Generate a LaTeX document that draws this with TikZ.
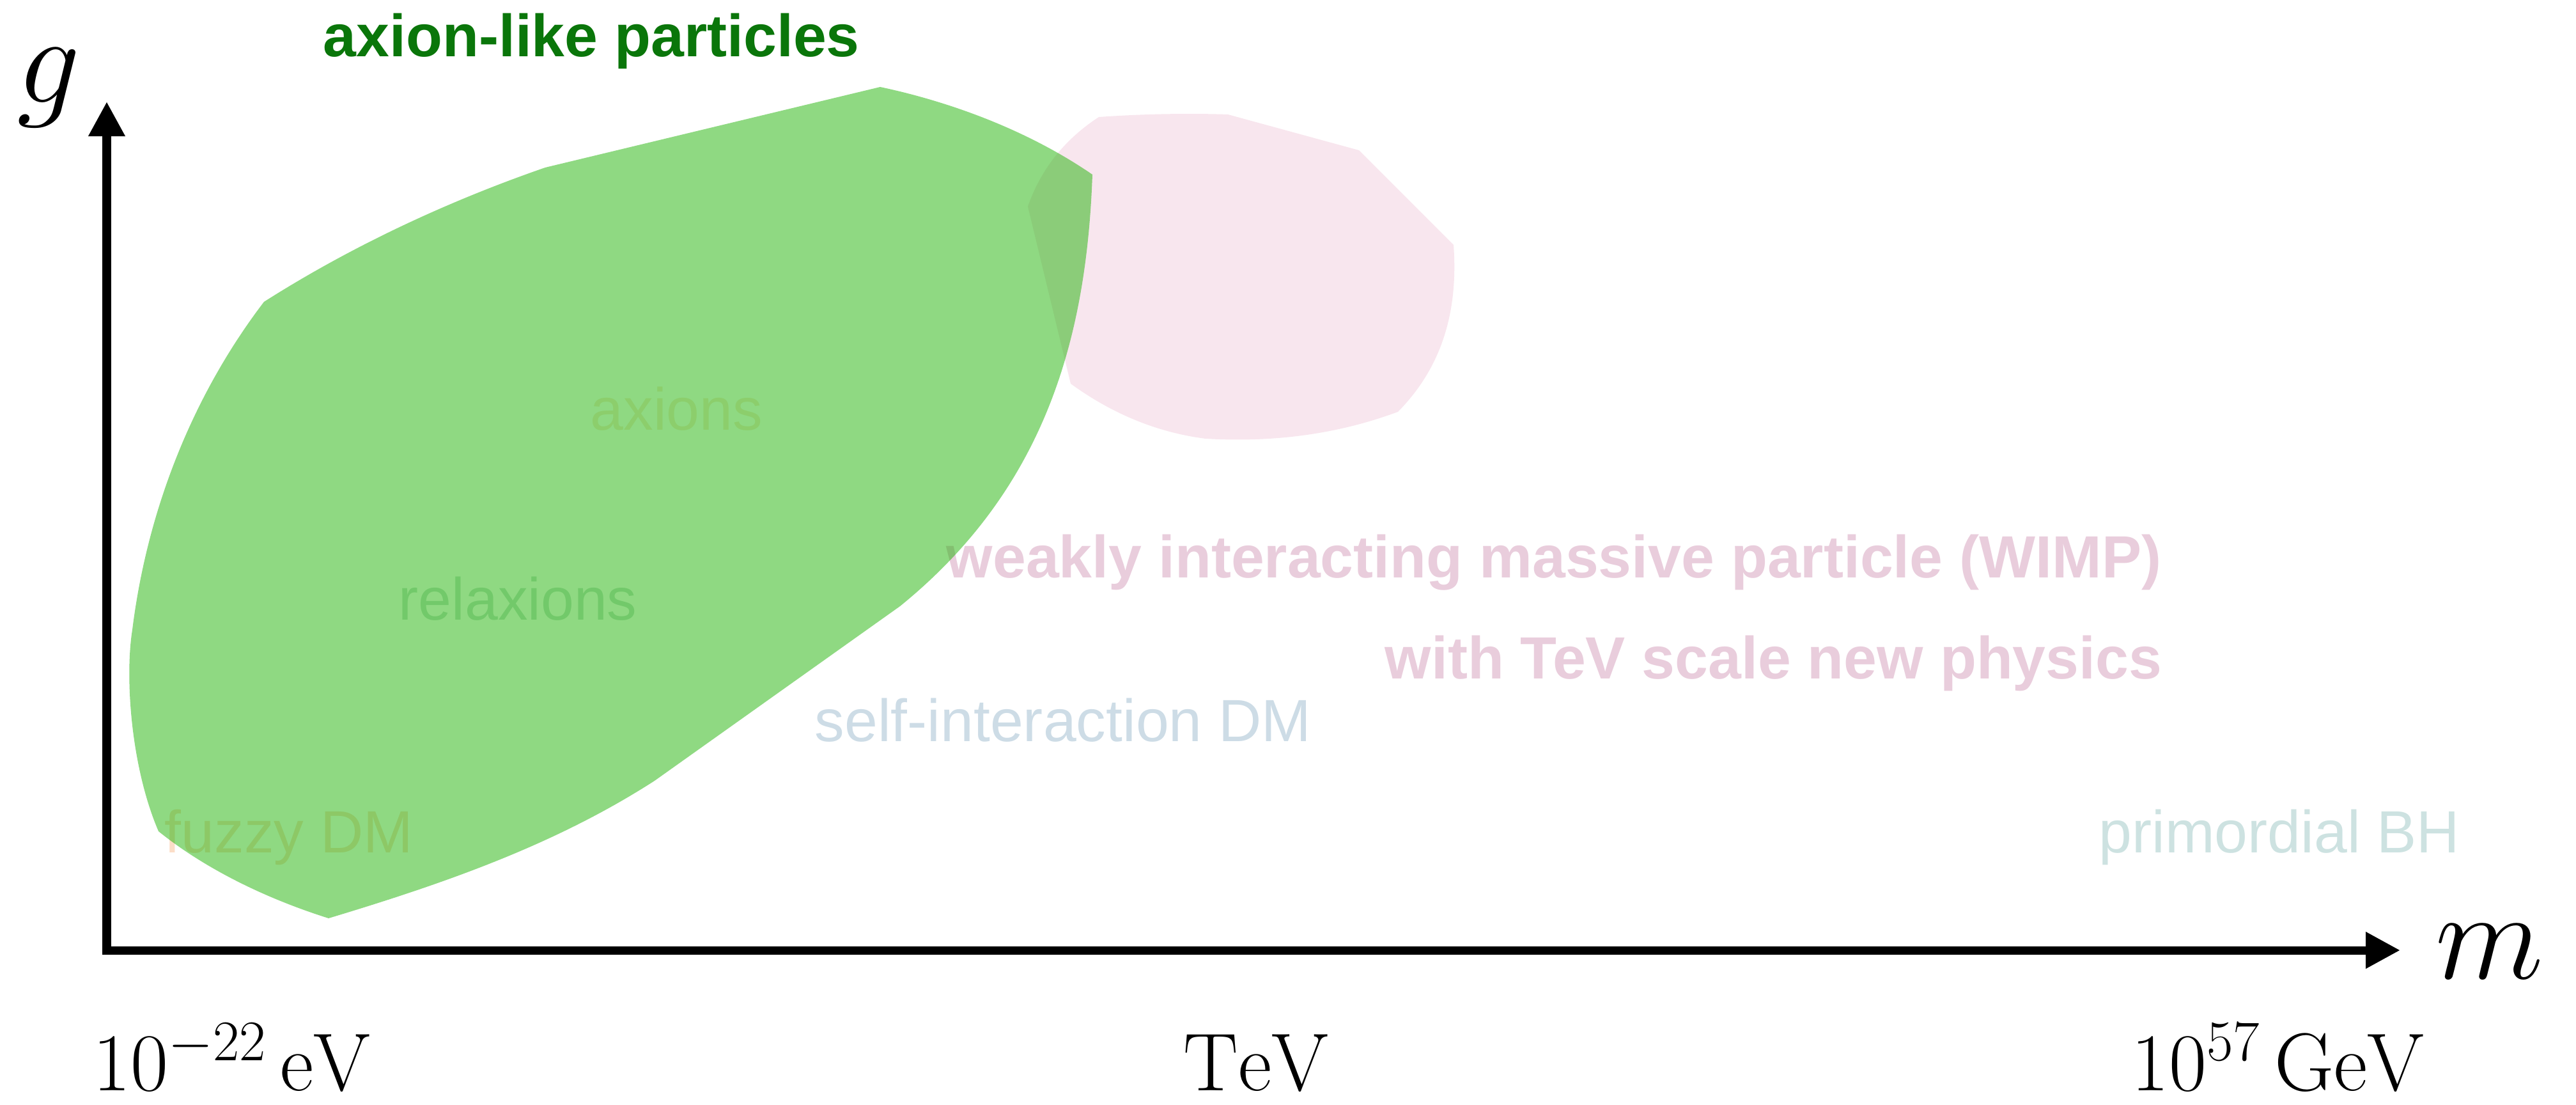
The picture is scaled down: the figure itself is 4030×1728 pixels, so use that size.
\RequirePackage{fix-cm}
\documentclass[tikz,border=0pt]{standalone}
\usepackage{fontspec}
\newfontfamily\helv{Liberation Sans}
\usetikzlibrary{arrows.meta}
\definecolor{alpG}{RGB}{31,179,5}
\definecolor{wimpP}{RGB}{248,230,238}
\definecolor{wimpT}{RGB}{233,205,220}
\definecolor{sidmT}{RGB}{205,220,230}
\definecolor{pbhT}{RGB}{205,226,225}
\definecolor{fuzzT}{RGB}{252,222,200}
\definecolor{axT}{RGB}{250,235,212}
\definecolor{relT}{RGB}{198,224,208}
\definecolor{titleG}{RGB}{10,118,10}
\begin{document}
\begin{tikzpicture}[x=0.01cm,y=-0.01cm,
  lab/.style={inner sep=0pt, anchor=base west, font=\helv\fontsize{26.5}{30}\selectfont},
  blab/.style={inner sep=0pt, anchor=base west, font=\helv\bfseries\fontsize{26.5}{30}\selectfont},
  mathlab/.style={inner sep=0pt, font=\fontsize{56}{60}\selectfont},
  ticklab/.style={inner sep=0pt, anchor=base west, font=\fontsize{36.5}{42}\selectfont},
  axisline/.style={line width=0.13cm, line join=miter,
    {Triangle[length=0.54cm,width=0.54cm]}-{Triangle[length=0.54cm,width=0.54cm]}},
  region/.style={draw=none}]
\useasboundingbox (0,0) rectangle (4030,1728);

% WIMP region
\fill[wimpP] (1719,183) .. controls (1790,178) and (1860,177) .. (1921,179)
  -- (2126,235) -- (2274,383)
  .. controls (2281,480) and (2260,570) .. (2187,644)
  .. controls (2090,680) and (1990,692) .. (1886,686)
  .. controls (1800,675) and (1730,640) .. (1675,600)
  -- (1608,323)
  .. controls (1630,260) and (1670,215) .. (1719,183) -- cycle;

% labels under the ALP region
\node[blab, text=wimpT] (wimp) at (1480,903) {weakly interacting massive particle (WIMP)};
\node[blab, text=wimpT] (tevnp) at (2166,1061) {with TeV scale new physics};
\node[lab, text=sidmT] (sidm) at (1274,1159) {self-interaction DM};
\node[lab, text=pbhT] (pbh) at (3283,1333) {primordial BH};
\node[lab, text=fuzzT] (fuzzy) at (257,1333) {fuzzy DM};
\node[lab, text=axT] (axions) at (923,673) {axions};
\node[lab, text=relT] (relax) at (623,969) {relaxions};

% ALP region
\fill[alpG, fill opacity=0.5]
  (1377,136) .. controls (1490,160) and (1610,205) .. (1709,273)
  .. controls (1700,520) and (1640,760) .. (1408,948)
  -- (1024,1221)
  .. controls (870,1320) and (700,1380) .. (514,1436)
  .. controls (400,1400) and (310,1350) .. (248,1300)
  .. controls (205,1200) and (195,1060) .. (207,985)
  .. controls (230,800) and (300,620) .. (413,472)
  .. controls (550,385) and (700,315) .. (853,262)
  -- cycle;

\node[blab, text=titleG] (title) at (505,89) {axion-like particles};

% axes
\coordinate (ytop) at (167,159);
\coordinate (orig) at (167,1486);
\coordinate (xend) at (3755,1486);
\draw[axisline] (ytop) -- (orig) -- (xend);
\node[mathlab] (glab) at (76,137) {$g$};
\node[mathlab] (mlab) at (3895,1488) {$m$};

\node[ticklab] (t1) at (145,1705) {$10^{-22}\,\mathrm{eV}$};
\node[ticklab, anchor=base] (t2) at (1965,1705) {$\mathrm{TeV}$};
\node[ticklab] (t3) at (3334,1705) {$10^{57}\,\mathrm{GeV}$};
\end{tikzpicture}
\end{document}
